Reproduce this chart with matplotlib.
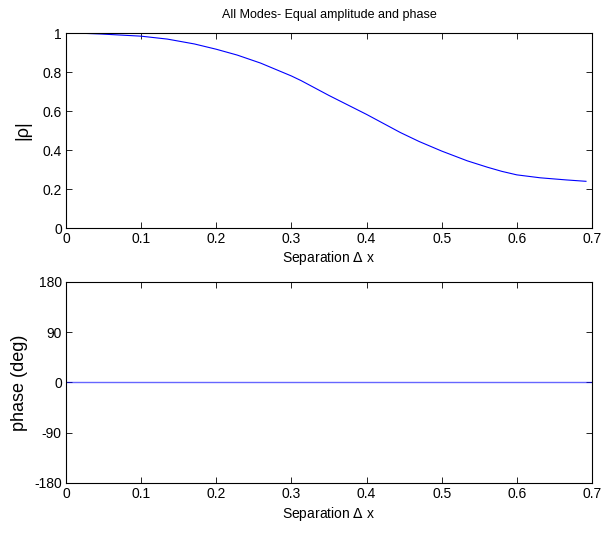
import matplotlib
matplotlib.use("Agg")
import matplotlib.pyplot as plt

# Separation values and correlation magnitude
sep = [0.0, 0.02, 0.047, 0.1, 0.135, 0.171, 0.2, 0.228, 0.259, 0.3,
       0.313, 0.35, 0.4, 0.445, 0.47, 0.5, 0.534, 0.561, 0.58, 0.6,
       0.631, 0.666, 0.692]
rho = [1.0, 0.999, 0.995, 0.984, 0.969, 0.944, 0.917, 0.887, 0.846, 0.78,
       0.756, 0.68, 0.583, 0.49, 0.444, 0.395, 0.345, 0.312, 0.291, 0.273,
       0.258, 0.247, 0.24]
phase_x = [0.0, 0.7]
phase = [0.0, 0.0]

xticks = [0, 0.1, 0.2, 0.3, 0.4, 0.5, 0.6, 0.7]
xticklabels = ["0", "0.1", "0.2", "0.3", "0.4", "0.5", "0.6", "0.7"]
rho_ticks = [0, 0.2, 0.4, 0.6, 0.8, 1]
rho_ticklabels = ["0", "0.2", "0.4", "0.6", "0.8", "1"]
phase_ticks = [-180, -90, 0, 90, 180]

plt.rcParams["font.family"] = ["Liberation Sans", "DejaVu Sans"]
plt.rcParams["axes.unicode_minus"] = False

fig = plt.figure(figsize=(6.05, 5.33), dpi=100)
ax1 = fig.add_axes([0.109, 0.572, 0.8695, 0.366])
ax2 = fig.add_axes([0.109, 0.094, 0.8695, 0.377])


def style(ax):
    ax.tick_params(direction="in", top=True, right=True, labelsize=10,
                   length=4, width=0.6, pad=3)
    for s in ax.spines.values():
        s.set_linewidth(0.8)


ax1.plot(sep, rho, color="#0000ff", linewidth=0.8)
ax1.set_xlim(0, 0.7)
ax1.set_ylim(0, 1)
ax1.set_xticks(xticks)
ax1.set_xticklabels(xticklabels)
ax1.set_yticks(rho_ticks)
ax1.set_yticklabels(rho_ticklabels)
ax1.set_xlabel("Separation $\\Delta$ x", fontsize=10, labelpad=2)
ax1.set_ylabel("|\u03c1|", fontsize=13, labelpad=8)
ax1.set_title("All Modes- Equal amplitude and phase", fontsize=9, pad=11)
style(ax1)

ax2.plot(phase_x, phase, color="#0000ff", linewidth=1.0, alpha=0.6)
ax2.set_xlim(0, 0.7)
ax2.set_ylim(-180, 180)
ax2.set_xticks(xticks)
ax2.set_xticklabels(xticklabels)
ax2.set_yticks(phase_ticks)
ax2.set_xlabel("Separation $\\Delta$ x", fontsize=10, labelpad=3)
ax2.set_ylabel("phase (deg)", fontsize=13, labelpad=4)
style(ax2)

fig.savefig("out.png", dpi=100)
